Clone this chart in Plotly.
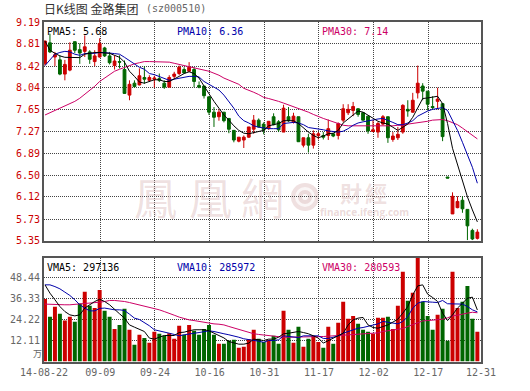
import plotly.graph_objects as go

W, H = 530, 391

opens = [8.46,8.83,8.58,8.53,8.28,8.35,8.85,8.71,8.68,8.67,8.50,8.58,8.74,8.60,8.43,8.50,8.36,7.91,8.12,8.09,8.22,8.17,
         8.19,8.20,8.12,8.05,8.24,8.29,8.36,8.33,8.36,8.08,8.07,7.88,7.61,7.53,7.61,7.50,7.29,7.10,7.12,7.17,7.31,7.47,
         7.40,7.32,7.53,7.44,7.26,7.53,7.44,7.53,7.03,7.16,7.03,7.20,7.20,7.20,7.23,7.20,7.47,7.60,7.64,7.67,7.60,7.54,
         7.27,7.26,7.40,7.53,7.13,7.16,7.26,7.66,7.61,7.95,8.07,7.98,7.71,7.80,7.76,6.47,5.82,5.93,6.06,5.90,5.53,5.39]
highs = [8.87,8.99,8.67,8.61,8.53,8.84,8.85,8.82,8.96,8.70,8.70,8.91,8.76,8.67,8.61,8.61,8.52,8.17,8.17,8.38,8.42,8.26,
         8.25,8.29,8.17,8.26,8.32,8.43,8.40,8.49,8.40,8.15,8.07,7.88,7.70,7.66,7.61,7.50,7.29,7.17,7.20,7.35,7.56,7.50,
         7.43,7.45,7.59,7.47,7.74,7.70,7.60,7.53,7.16,7.23,7.29,7.26,7.26,7.48,7.24,7.43,7.75,7.75,7.79,7.68,7.61,7.54,
         7.47,7.44,7.56,7.53,7.26,7.35,7.75,7.82,7.95,8.43,8.12,7.98,7.89,8.04,7.76,6.47,6.20,6.13,6.13,5.90,5.56,5.55]
lows = [8.43,8.65,8.42,8.26,8.17,8.33,8.65,8.46,8.58,8.46,8.42,8.57,8.58,8.45,8.36,8.38,7.93,7.82,8.04,8.08,8.11,8.14,
        8.04,8.14,8.02,8.05,8.20,8.26,8.29,8.32,8.05,8.03,7.85,7.56,7.35,7.46,7.43,7.24,7.08,7.08,6.98,7.16,7.23,7.34,
        7.22,7.30,7.38,7.26,7.26,7.44,7.41,7.09,6.99,6.90,6.97,7.13,7.13,7.12,7.17,7.13,7.43,7.56,7.54,7.53,7.46,7.23,
        7.26,7.16,7.38,7.07,7.09,7.12,7.23,7.53,7.60,7.85,7.82,7.64,7.66,7.66,7.10,6.45,5.82,5.92,5.84,5.36,5.36,5.37]
closes = [8.86,8.67,8.62,8.28,8.45,8.70,8.70,8.65,8.76,8.54,8.60,8.82,8.60,8.48,8.51,8.49,7.94,8.10,8.06,8.25,8.19,8.22,
          8.21,8.17,8.05,8.22,8.28,8.40,8.30,8.40,8.15,8.05,7.90,7.61,7.52,7.61,7.46,7.31,7.12,7.17,7.17,7.35,7.47,7.35,
          7.30,7.45,7.39,7.30,7.68,7.46,7.54,7.09,7.16,7.03,7.23,7.23,7.17,7.32,7.19,7.41,7.67,7.66,7.71,7.57,7.47,7.28,
          7.30,7.41,7.53,7.16,7.19,7.22,7.73,7.63,7.82,8.12,7.98,7.75,7.69,7.84,7.18,6.45,6.13,6.04,5.91,5.61,5.38,5.50]

pma5 = [8.86,8.70,8.645,8.60,8.575,8.575,8.57,8.57,8.63,8.65,8.66,8.66,8.65,8.645,8.61,8.575,8.49,8.33,8.24,8.14,8.12,8.15,
        8.18,8.18,8.15,8.15,8.19,8.24,8.29,8.32,8.29,8.21,8.07,7.925,7.80,7.68,7.56,7.47,7.37,7.29,7.24,7.23,7.25,7.275,7.29,
        7.37,7.39,7.41,7.46,7.46,7.46,7.41,7.33,7.26,7.20,7.16,7.19,7.23,7.24,7.29,7.42,7.49,7.565,7.63,7.61,7.56,7.50,7.45,
        7.42,7.40,7.345,7.29,7.345,7.40,7.52,7.70,7.85,7.86,7.87,7.89,7.76,7.41,6.975,6.68,6.41,6.12,5.89,5.68]
pma10 = [8.43,8.54,8.63,8.66,8.68,8.67,8.63,8.61,8.64,8.645,8.645,8.66,8.66,8.65,8.64,8.63,8.575,8.52,8.45,8.40,8.365,8.29,
         8.27,8.24,8.21,8.17,8.19,8.21,8.22,8.24,8.24,8.23,8.15,8.10,8.05,8.00,7.91,7.80,7.68,7.54,7.46,7.42,7.37,7.345,7.33,
         7.32,7.32,7.32,7.41,7.42,7.43,7.42,7.39,7.34,7.33,7.32,7.30,7.28,7.275,7.26,7.275,7.32,7.38,7.42,7.44,7.46,7.48,7.49,
         7.50,7.47,7.43,7.39,7.39,7.42,7.46,7.54,7.59,7.63,7.66,7.68,7.69,7.64,7.47,7.29,7.08,6.85,6.64,6.36]
pma30 = [7.56,7.60,7.635,7.67,7.71,7.75,7.80,7.855,7.92,7.995,8.065,8.15,8.215,8.28,8.33,8.365,8.40,8.435,8.46,8.48,8.50,8.50,
         8.50,8.50,8.50,8.49,8.47,8.45,8.435,8.42,8.40,8.37,8.35,8.33,8.295,8.26,8.21,8.17,8.14,8.10,8.03,8.00,7.96,7.92,7.87,
         7.85,7.83,7.80,7.77,7.74,7.71,7.68,7.64,7.61,7.57,7.53,7.50,7.47,7.44,7.41,7.38,7.37,7.37,7.36,7.36,7.36,7.36,7.36,
         7.37,7.37,7.37,7.38,7.38,7.40,7.41,7.42,7.44,7.45,7.47,7.48,7.48,7.46,7.43,7.39,7.33,7.27,7.21,7.14]

volume = [36.1,25.8,31.5,27.5,23.6,25.8,22.9,33.4,40.2,32.1,30.9,41.3,29.2,25.8,18.8,21.1,30.4,18.3,9.6,15.4,13.6,10.8,
          17.1,16.0,14.8,16.3,13.1,20.6,15.4,21.1,17.7,15.4,18.8,21.1,15.4,10.2,10.2,12.1,12.5,7.9,8.5,12.9,18.3,13.1,11.3,
          12.5,14.8,10.2,29.2,18.3,10.8,20.0,8.5,13.1,14.8,11.3,7.9,20.0,10.2,22.3,34.4,24.6,26.3,21.7,18.3,17.1,16.0,25.2,
          25.2,25.8,18.8,32.1,51.7,35.0,39.6,61.0,34.4,26.3,18.3,26.9,30.4,11.9,51.7,30.9,34.4,43.6,24.6,17.1]
vma5 = [44.2,39.4,35.6,31.7,28.8,26.9,26.3,26.9,30.8,32.7,34.6,35.9,34.6,32.7,29.8,27.5,25.0,21.1,19.8,18.6,17.3,13.5,
        12.9,14.0,15.0,15.0,15.0,16.7,16.9,17.7,18.3,18.3,18.3,17.7,16.3,14.8,13.6,11.5,10.8,10.0,10.0,10.6,12.9,12.5,12.1,
        12.9,12.9,14.0,16.0,16.3,16.7,17.3,16.7,16.0,14.8,13.5,10.6,12.1,13.5,14.8,16.3,21.1,24.0,25.0,25.4,21.1,19.6,19.2,
        20.0,21.1,22.7,24.4,27.9,31.7,38.4,43.6,44.2,38.8,36.9,34.6,27.9,23.6,26.9,30.8,33.6,36.5,37.1,29.7]
vma10 = [44.2,44.2,43.2,41.9,40.0,38.1,35.6,32.7,30.8,29.2,29.2,30.6,30.8,30.2,29.8,29.8,29.4,27.3,25.0,24.2,22.5,20.6,
         18.3,17.5,16.9,16.3,15.6,14.8,15.4,16.0,16.3,16.7,17.1,17.7,17.3,16.5,16.0,15.4,14.8,14.0,13.1,12.7,12.5,11.7,11.1,
         12.1,12.1,12.5,14.8,14.6,14.2,13.8,14.8,14.8,14.8,14.8,13.3,13.3,14.0,14.8,16.3,17.3,18.6,19.2,19.6,20.2,20.9,21.7,
         23.1,22.7,22.1,21.7,23.1,25.9,30.8,33.6,34.6,34.6,34.2,34.0,35.2,33.3,33.3,33.3,33.1,31.7,29.8,28.6]
vma30 = [33.1,32.9,32.7,32.7,32.7,32.7,32.9,33.1,33.3,33.4,33.6,34.2,34.6,35.2,35.2,35.0,34.6,34.0,33.3,32.7,32.1,31.3,
         30.6,29.8,28.8,27.9,26.7,25.6,24.6,24.0,23.6,23.1,22.5,21.9,21.7,21.5,21.1,20.2,19.4,18.6,17.7,16.7,16.0,15.6,15.2,
         15.0,14.8,14.4,14.0,14.0,14.0,14.2,14.2,14.4,14.4,14.4,14.4,14.6,14.8,14.8,15.0,15.0,15.2,15.4,15.6,15.8,16.1,16.5,
         17.3,17.7,18.1,18.3,19.0,20.2,21.3,22.5,23.4,23.6,23.8,24.0,24.4,25.2,26.3,26.7,27.5,27.9,28.4,28.1]

price_ticks = [9.19, 8.81, 8.42, 8.04, 7.65, 7.27, 6.89, 6.50, 6.12, 5.73, 5.35]
volume_ticks = [48.44, 36.33, 24.22, 12.11]
date_labels = ["14-08-22", "09-09", "09-24", "10-16", "10-31", "11-17", "12-02", "12-17", "12-31"]
date_positions = [-0.2, 11.13, 22.13, 33.13, 44.13, 55.13, 66.13, 77.13, 87.73]

for arr in (opens, highs, lows, closes, pma5, pma10, pma30, volume, vma5, vma10, vma30):
    assert len(arr) == 88, len(arr)

RED, GREEN, BLUE, PINK = "#cc0000", "#006600", "#0000aa", "#cc0066"
GRID, FRAME, GREY = "#444444", "#555555", "#666666"
MONO = "'DejaVu Sans Mono', 'Liberation Mono', monospace"
days = list(range(88))

fig = go.Figure()
fig.add_trace(go.Candlestick(
    x=days, open=opens, high=highs, low=lows, close=closes, xaxis="x", yaxis="y",
    increasing=dict(line=dict(color=RED, width=1), fillcolor=RED),
    decreasing=dict(line=dict(color=GREEN, width=1), fillcolor=GREEN),
    showlegend=False))
for series, colour in ((pma30, PINK), (pma10, BLUE), (pma5, "#000000")):
    fig.add_trace(go.Scatter(x=days, y=series, mode="lines", xaxis="x", yaxis="y",
                             line=dict(color=colour, width=1), showlegend=False))
fig.add_trace(go.Bar(x=days, y=volume, xaxis="x2", yaxis="y2", width=0.8,
                     marker=dict(color=[RED if c >= o else GREEN for o, c in zip(opens, closes)], line_width=0),
                     showlegend=False))
for series, colour in ((vma30, PINK), (vma10, BLUE), (vma5, "#000000")):
    fig.add_trace(go.Scatter(x=days, y=series, mode="lines", xaxis="x2", yaxis="y2",
                             line=dict(color=colour, width=1), showlegend=False))

xcommon = dict(range=[-0.2, 87.73], tickmode="array", tickvals=date_positions, showgrid=True,
               gridcolor=GRID, griddash="1px,1px", gridwidth=1, zeroline=False, showline=True,
               linecolor=FRAME, linewidth=2, mirror=True, ticks="", rangeslider=dict(visible=False),
               tickfont=dict(family=MONO, size=10, color=GREY))
ycommon = dict(tickmode="array", showgrid=True, gridcolor=GRID, griddash="1px,1px", gridwidth=1,
               zeroline=False, showline=True, linecolor=FRAME, linewidth=2, mirror=True, ticks="")

fig.update_layout(
    width=W, height=H, margin=dict(l=0, r=0, t=0, b=0, autoexpand=False),
    paper_bgcolor="white", plot_bgcolor="white", bargap=0.2, boxgap=0.2,
    xaxis=dict(xcommon, domain=[44/W, 481/W], anchor="y", showticklabels=False),
    yaxis=dict(ycommon, domain=[1-240.7/H, 1-22.3/H], anchor="x", range=[5.349, 9.191],
               tickvals=price_ticks, ticktext=[f"{v:.2f}" for v in price_ticks],
               tickfont=dict(family=MONO, size=10, color=RED)),
    xaxis2=dict(xcommon, domain=[44/W, 481/W], anchor="y2", ticktext=date_labels),
    yaxis2=dict(ycommon, domain=[1-361.5/H, 1-257.5/H], anchor="x2", range=[0, 59.97],
                tickvals=volume_ticks, ticktext=[f"{v:.2f}" for v in volume_ticks],
                tickfont=dict(family=MONO, size=10, color=GREY)),
)

def label(x, y, text, colour, size=10, family=MONO, anchor="left"):
    fig.add_annotation(x=x/W, y=1-y/H, xref="paper", yref="paper", text=text, showarrow=False,
                       xanchor=anchor, yanchor="middle", font=dict(family=family, size=size, color=colour),
                       borderpad=0, borderwidth=0)

CJK = "'Noto Sans CJK TC', 'Noto Sans CJK SC'"
label(44, 8, "日K线图 金路集团", "#333333", 12, "'Noto Sans CJK SC'")
label(146, 8, "(sz000510)", GREY)
label(47, 32, "PMA5: 5.68", "#000000")
label(177, 32, "PMA10: 6.36", BLUE)
label(322, 32, "PMA30: 7.14", PINK)
label(47, 267, "VMA5: 297136", "#000000")
label(177, 267, "VMA10: 285972", BLUE)
label(322, 267, "VMA30: 280593", PINK)
label(37, 353, "万", GREY, 9, "'Noto Sans CJK SC'", "center")

WM = "rgba(205,160,160,0.32)"
for cx, ch in ((155, "鳳"), (210, "凰"), (262, "網")):
    label(cx, 196, ch, WM, 43, CJK, "center")
label(351, 192, "<b>財</b>", WM, 22, CJK, "center")
label(376, 192, "<b>經</b>", WM, 22, CJK, "center")
label(364, 212, "<b>finance.ifeng.com</b>", "rgba(205,160,160,0.4)", 10, "'Open Sans'", "center")
for r, col in ((14, "rgba(205,160,160,0.32)"), (10, "rgba(255,255,255,0.7)"), (7, "rgba(205,160,160,0.32)"), (3, "rgba(255,255,255,0.8)")):
    fig.add_shape(type="circle", xref="paper", yref="paper", layer="below", line_width=0, fillcolor=col,
                  x0=(305-r)/W, x1=(305+r)/W, y0=1-(197+r)/H, y1=1-(197-r)/H)

fig.write_html("out.html", config={"displayModeBar": False}, post_script="document.body.style.margin='0';")
